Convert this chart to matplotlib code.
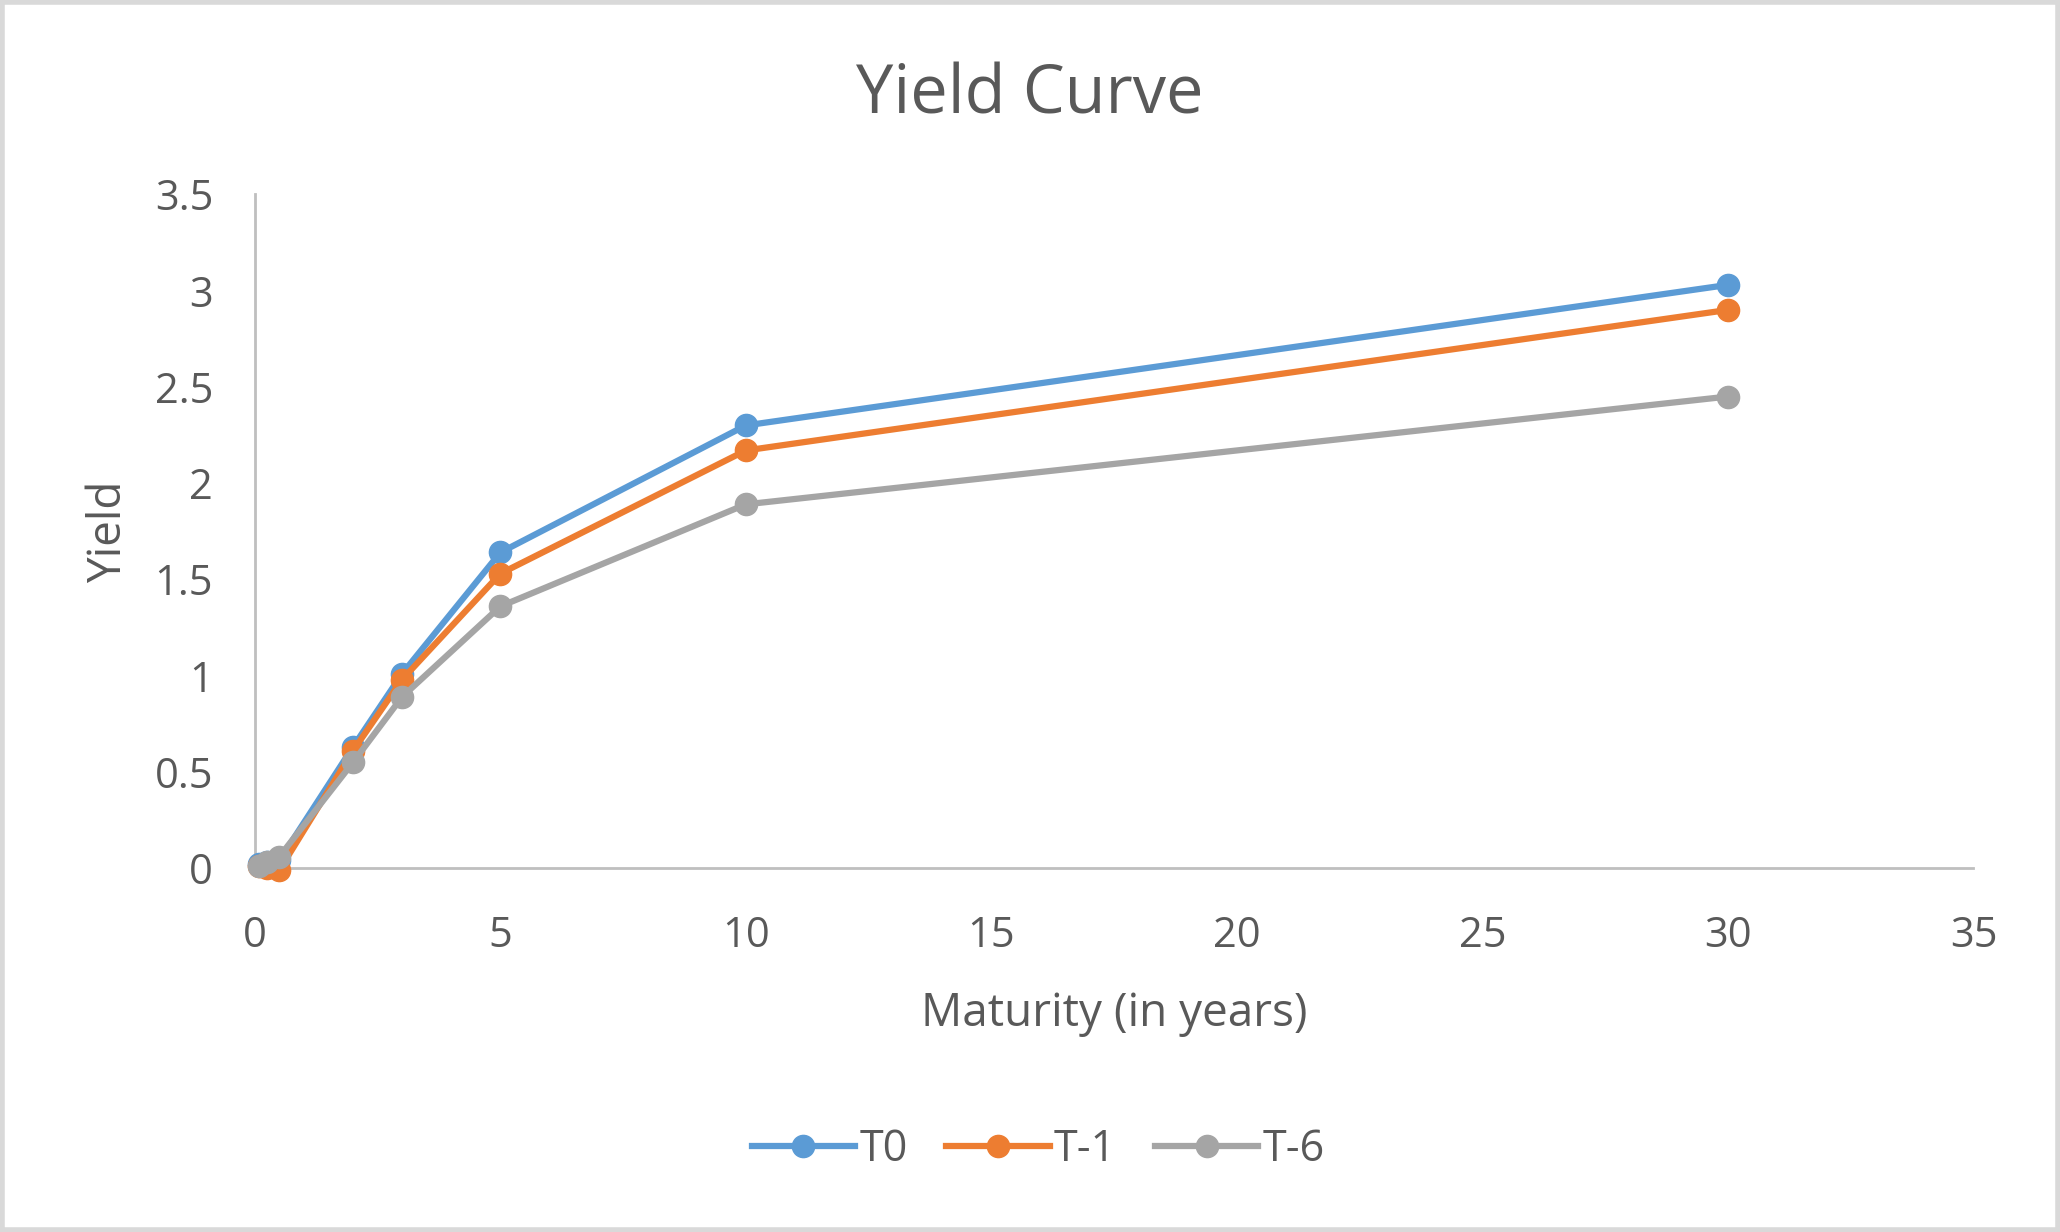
import matplotlib
matplotlib.use("Agg")
import matplotlib.pyplot as plt
from matplotlib.patches import Rectangle

# maturities in years (1M, 3M, 6M, 2Y, 3Y, 5Y, 10Y, 30Y)
maturity = [0.083, 0.25, 0.5, 2, 3, 5, 10, 30]
t0 = [0.02, 0.03, 0.04, 0.63, 1.01, 1.64, 2.30, 3.03]
t1 = [0.01, 0.0, -0.01, 0.61, 0.98, 1.53, 2.17, 2.90]
t6 = [0.01, 0.03, 0.06, 0.55, 0.89, 1.36, 1.89, 2.45]
series_names = ["T0", "T-1", "T-6"]
colors = ["#5B9BD5", "#ED7D31", "#A5A5A5"]

plt.rcParams['font.family'] = ['Open Sans', 'DejaVu Sans']
text_col = "#595959"

fig = plt.figure(figsize=(20.6, 12.32), dpi=100)
ax = fig.add_axes([0.1237, 0.2953, 0.8343, 0.5469])

for vals, name, c in zip([t0, t1, t6], series_names, colors):
    ax.plot(maturity, vals, '-o', color=c, lw=4.5, markersize=16, label=name,
            solid_joinstyle='round', clip_on=False, zorder=3)

ax.set_xlim(0, 35)
ax.set_ylim(0, 3.5)
ax.set_xticks(range(0, 36, 5))
ax.set_yticks([0, 0.5, 1, 1.5, 2, 2.5, 3, 3.5])
ax.set_yticklabels(['0', '0.5', '1', '1.5', '2', '2.5', '3', '3.5'])

for s in ['top', 'right']:
    ax.spines[s].set_visible(False)
for s in ['left', 'bottom']:
    ax.spines[s].set_color('#BFBFBF')
    ax.spines[s].set_linewidth(2)
ax.tick_params(length=0, labelsize=30, colors=text_col)
ax.tick_params(axis='x', pad=34)
ax.tick_params(axis='y', pad=30)

fig.text(0.5, 0.922, "Yield Curve", fontsize=48, color=text_col,
         ha='center', va='center')
ax.set_xlabel("Maturity (in years)", fontsize=33, color=text_col, labelpad=24)
ax.set_ylabel("Yield", fontsize=33, color=text_col, labelpad=16)

leg = fig.legend(loc='center', bbox_to_anchor=(0.504, 0.067), ncol=3,
                 frameon=False, fontsize=31, handlelength=2.4,
                 columnspacing=0.9, handletextpad=0.1)
for t in leg.get_texts():
    t.set_color(text_col)

fig.patches.append(Rectangle((0.001, 0.002), 0.998, 0.996, transform=fig.transFigure,
                             fill=False, edgecolor='#D9D9D9', lw=4))

fig.savefig("out.png", dpi=100, facecolor='white')
